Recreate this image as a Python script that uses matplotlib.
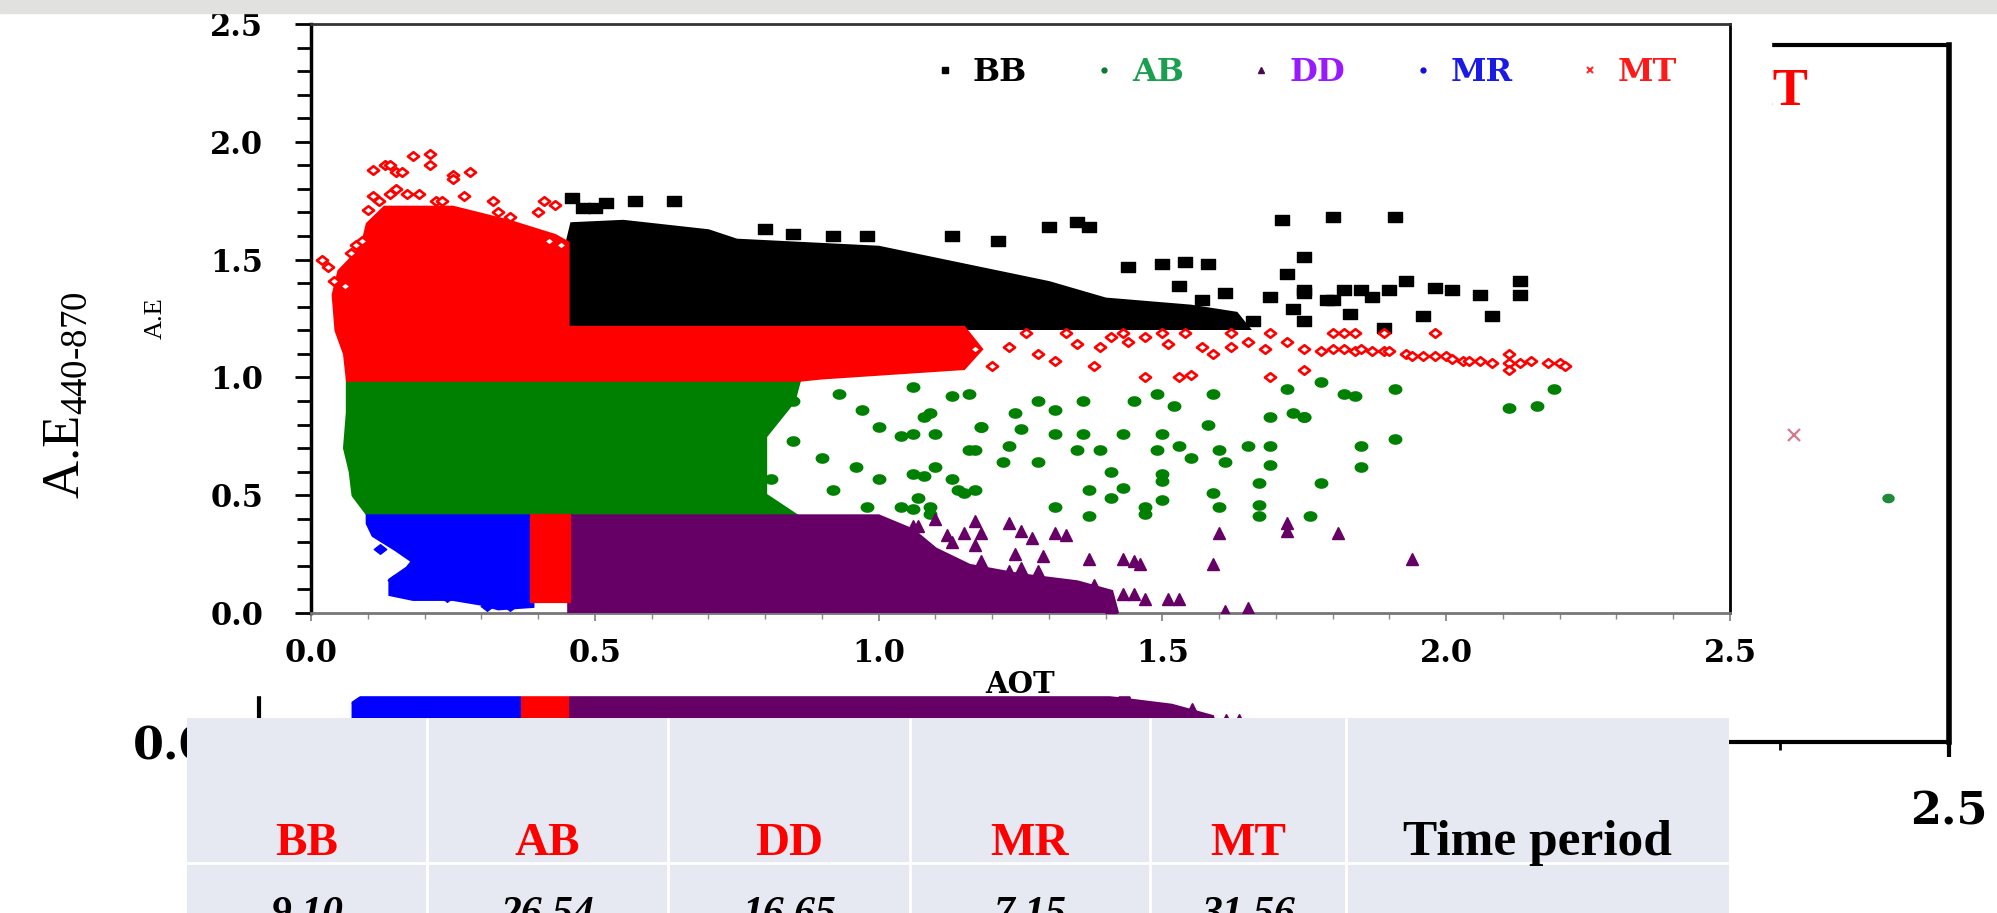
import numpy as np
import matplotlib
matplotlib.use('Agg')
import matplotlib.pyplot as plt
from matplotlib.lines import Line2D
from matplotlib.patches import Rectangle
from matplotlib.path import Path

plt.rcParams['font.family'] = 'DejaVu Serif'
plt.rcParams['mathtext.fontset'] = 'custom'
plt.rcParams['mathtext.rm'] = 'Liberation Serif'

# ---------------- data: AOT (x) vs A.E (y) ----------------
# outlines of the solid (saturated) cores of each class
bb_core_x = [0.452, 0.452, 0.46, 0.55, 0.70, 0.75, 1.00, 1.10, 1.20, 1.30, 1.40, 1.55, 1.63, 1.65]
bb_core_y = [1.21, 1.57, 1.65, 1.66, 1.62, 1.58, 1.55, 1.50, 1.45, 1.40, 1.33, 1.30, 1.27, 1.21]
ab_core_x = [0.10, 0.075, 0.07, 0.06, 0.065, 0.065, 0.86, 0.85, 0.80, 0.80, 0.85]
ab_core_y = [0.42, 0.50, 0.60, 0.70, 0.85, 0.99, 0.99, 0.90, 0.75, 0.50, 0.42]
dd_core_x = [0.455, 0.455, 1.00, 1.06, 1.10, 1.16, 1.25, 1.35, 1.41, 1.42]
dd_core_y = [0.0, 0.41, 0.41, 0.35, 0.27, 0.20, 0.16, 0.13, 0.09, 0.0]
mr_core_x = [0.10, 0.39, 0.39, 0.33, 0.30, 0.25, 0.18, 0.14, 0.14, 0.17, 0.18, 0.15, 0.11, 0.10]
mr_core_y = [0.41, 0.41, 0.03, 0.02, 0.04, 0.06, 0.06, 0.08, 0.14, 0.19, 0.22, 0.27, 0.33, 0.38]
mt_core_x = [0.065, 0.06, 0.045, 0.04, 0.05, 0.09, 0.10, 0.13, 0.25, 0.35, 0.43, 0.452, 0.452,
             0.80, 1.00, 1.15, 1.18, 1.15, 0.90, 0.86]
mt_core_y = [0.99, 1.10, 1.20, 1.35, 1.45, 1.55, 1.65, 1.72, 1.72, 1.66, 1.60, 1.57, 1.21,
             1.21, 1.21, 1.21, 1.12, 1.04, 1.00, 0.99]
mt_strip_x = [0.39, 0.455, 0.455, 0.39]
mt_strip_y = [0.05, 0.05, 0.41, 0.41]

# scattered points outside the cores
bb_x = [0.46, 0.48, 0.50, 0.52, 0.57, 0.64, 0.80, 0.85, 0.92, 0.98, 1.13, 1.21, 1.30, 1.35, 1.37,
        1.44, 1.50, 1.54, 1.58, 1.71, 1.75, 1.72, 1.80, 1.80, 1.75, 1.91, 1.75, 1.82, 1.85, 1.90,
        1.93, 1.98, 2.01, 2.06, 2.13, 2.13, 1.96, 2.08, 1.89, 1.83, 1.79, 1.87, 1.53, 1.57, 1.61,
        1.62, 1.66, 1.69, 1.73, 1.75, 1.58]
bb_y = [1.76, 1.72, 1.72, 1.74, 1.75, 1.75, 1.63, 1.61, 1.60, 1.60, 1.60, 1.58, 1.64, 1.66, 1.64,
        1.47, 1.48, 1.49, 1.48, 1.67, 1.51, 1.44, 1.68, 1.33, 1.36, 1.68, 1.37, 1.37, 1.37, 1.37,
        1.41, 1.38, 1.37, 1.35, 1.41, 1.35, 1.26, 1.26, 1.21, 1.27, 1.33, 1.34, 1.39, 1.33, 1.36,
        1.24, 1.24, 1.34, 1.29, 1.24, 1.24]

ab_x = [0.71, 0.77, 0.85, 0.93, 0.97, 1.00, 1.04, 1.08, 1.13, 1.16, 1.18, 0.90, 0.96, 1.00, 1.07,
        1.14, 0.81, 0.85, 0.92, 0.98, 1.04, 1.10,
        1.06, 1.09, 1.16, 1.24, 1.28, 1.31, 1.36, 1.45, 1.49, 1.52, 1.59, 1.72, 1.82, 1.84, 1.91,
        2.19, 2.11, 2.16, 1.06, 1.10, 1.18, 1.25, 1.31, 1.36, 1.43, 1.50, 1.53, 1.58, 1.69, 1.73,
        1.75, 1.23, 1.28, 1.22, 1.17, 1.35, 1.39, 1.49, 1.55, 1.60, 1.61, 1.65, 1.69, 1.69, 1.85,
        1.91, 1.85, 1.06, 1.08, 1.13, 1.17, 1.15, 1.41, 1.50, 1.50, 1.43, 1.37, 1.41, 1.50, 1.59,
        1.67, 1.78, 1.31, 1.47, 1.47, 1.37, 1.60, 1.67, 1.67, 1.76, 1.09, 1.09, 1.06, 1.78, 1.75]
ab_y = [0.95, 0.85, 0.90, 0.93, 0.86, 0.79, 0.75, 0.83, 0.92, 0.69, 0.79, 0.66, 0.62, 0.57, 0.49,
        0.52, 0.57, 0.73, 0.52, 0.45, 0.45, 0.62,
        0.96, 0.85, 0.93, 0.85, 0.90, 0.86, 0.90, 0.90, 0.93, 0.88, 0.93, 0.95, 0.93, 0.92, 0.95,
        0.95, 0.87, 0.88, 0.76, 0.76, 0.79, 0.78, 0.76, 0.76, 0.76, 0.76, 0.71, 0.80, 0.83, 0.85,
        0.83, 0.71, 0.64, 0.64, 0.69, 0.69, 0.69, 0.69, 0.66, 0.69, 0.64, 0.71, 0.71, 0.63, 0.71,
        0.74, 0.62, 0.59, 0.58, 0.57, 0.52, 0.51, 0.60, 0.59, 0.56, 0.53, 0.52, 0.49, 0.48, 0.51,
        0.55, 0.55, 0.45, 0.45, 0.42, 0.41, 0.45, 0.46, 0.41, 0.41, 0.45, 0.42, 0.44, 0.98, 0.83]

dd_x = [1.10, 1.17, 1.23, 1.25, 1.27, 1.31, 1.33, 1.15, 1.18, 1.12, 1.06, 1.07, 1.13, 1.17, 1.24,
        1.29, 1.37, 1.43, 1.45, 1.46, 1.59, 1.60, 1.72, 1.72, 1.81, 1.94, 1.06, 1.09, 1.28, 1.38,
        1.43, 1.45, 1.47, 1.51, 1.53, 1.41, 1.61, 1.65, 1.23, 1.25, 1.18]
dd_y = [0.40, 0.39, 0.38, 0.35, 0.32, 0.34, 0.33, 0.34, 0.34, 0.33, 0.37, 0.37, 0.30, 0.29, 0.25,
        0.24, 0.23, 0.23, 0.22, 0.21, 0.21, 0.34, 0.38, 0.35, 0.34, 0.23, 0.28, 0.20, 0.18, 0.12,
        0.08, 0.08, 0.06, 0.06, 0.06, 0.02, 0.01, 0.02, 0.18, 0.19, 0.22]

mr_x = [0.115, 0.122, 0.146, 0.150, 0.169, 0.240, 0.31, 0.35]
mr_y = [0.38, 0.27, 0.14, 0.10, 0.32, 0.07, 0.03, 0.03]

mt_x = [0.02, 0.03, 0.04, 0.06, 0.07, 0.08, 0.09, 0.10, 0.11, 0.11, 0.13, 0.14, 0.15, 0.16, 0.18,
        0.21, 0.21, 0.25, 0.25, 0.28, 0.12, 0.14, 0.15, 0.17, 0.19, 0.22, 0.23, 0.27, 0.32, 0.33,
        0.35, 0.40, 0.41, 0.43, 0.42, 0.44,
        1.17, 1.20, 1.23, 1.26, 1.28, 1.31, 1.33, 1.35, 1.38, 1.39, 1.41, 1.43, 1.44, 1.47, 1.47,
        1.50, 1.51, 1.53, 1.54, 1.55, 1.57, 1.59, 1.62, 1.62, 1.65, 1.68, 1.69, 1.69, 1.72,
        1.75, 1.80, 1.82, 1.84, 1.89, 1.98, 1.75, 1.78, 1.80, 1.82, 1.84, 1.85, 1.87, 1.89, 1.90,
        1.93, 1.94, 1.96, 1.98, 2.00, 2.01, 2.03, 2.04, 2.06, 2.08, 2.11, 2.11, 2.11, 2.13, 2.15,
        2.18, 2.20, 2.21]
mt_y = [1.50, 1.47, 1.41, 1.39, 1.53, 1.56, 1.58, 1.71, 1.77, 1.88, 1.90, 1.90, 1.87, 1.87, 1.94,
        1.95, 1.90, 1.86, 1.84, 1.87, 1.75, 1.78, 1.80, 1.78, 1.78, 1.75, 1.75, 1.77, 1.75, 1.70,
        1.68, 1.70, 1.75, 1.73, 1.58, 1.56,
        1.12, 1.05, 1.13, 1.19, 1.10, 1.07, 1.19, 1.14, 1.05, 1.13, 1.17, 1.19, 1.15, 1.17, 1.00,
        1.19, 1.14, 1.00, 1.19, 1.01, 1.13, 1.10, 1.19, 1.13, 1.15, 1.12, 1.19, 1.00, 1.15,
        1.03, 1.19, 1.19, 1.19, 1.19, 1.19, 1.12, 1.11, 1.12, 1.12, 1.11, 1.12, 1.11, 1.11, 1.11,
        1.10, 1.09, 1.09, 1.09, 1.09, 1.08, 1.07, 1.07, 1.07, 1.06, 1.10, 1.06, 1.03, 1.06, 1.07,
        1.06, 1.06, 1.05]

# points only visible on the slide image lying behind the chart
back_mt_x, back_mt_y = [2.27], [1.10]
back_ab_x, back_ab_y = [2.41], [0.875]

classes = ['BB', 'AB', 'DD', 'MR', 'MT']
table_heads = classes + ['Time period']
table_share = [9.10, 26.54, 16.65, 7.15, 31.56]

# ---------------- styles ----------------
c_bb, c_ab, c_dd, c_mr, c_mt = 'black', '#008000', '#660066', '#0000ff', '#ff0000'
leg_colors = ['black', '#1a9e50', '#9a1aff', '#1a1ae6', '#ff1a1a']
rect_mk = Path([(-1.4, -1), (1.4, -1), (1.4, 1), (-1.4, 1), (-1.4, -1)], closed=True)
t = np.linspace(0, 2 * np.pi, 25)
oval_mk = Path(np.column_stack([1.35 * np.cos(t), np.sin(t)]), closed=True)
dia_mk = Path([(0, 1), (1.3, 0), (0, -1), (-1.3, 0), (0, 1)], closed=True)


def draw_classes(a):
    a.fill(bb_core_x, bb_core_y, color=c_bb, lw=3, zorder=2)
    a.plot(bb_x, bb_y, ls='none', marker=rect_mk, ms=10.5, color=c_bb, zorder=2)
    a.fill(ab_core_x, ab_core_y, color=c_ab, lw=3, zorder=3)
    a.plot(ab_x, ab_y, ls='none', marker=oval_mk, ms=9, color=c_ab, zorder=3)
    a.fill(dd_core_x, dd_core_y, color=c_dd, lw=3, zorder=4)
    a.plot(dd_x, dd_y, ls='none', marker='^', ms=8.5, color=c_dd, zorder=4)
    a.fill(mr_core_x, mr_core_y, color=c_mr, lw=3, zorder=5)
    a.plot(mr_x, mr_y, ls='none', marker=dia_mk, ms=9, color=c_mr, zorder=5)
    a.fill(mt_core_x, mt_core_y, color=c_mt, lw=3, zorder=6)
    a.fill(mt_strip_x, mt_strip_y, color=c_mt, lw=3, zorder=6)
    a.plot(mt_x, mt_y, ls='none', marker=dia_mk, ms=8, mfc='white', mec=c_mt, mew=1.9, zorder=6)


W, H = 1997, 913
fig = plt.figure(figsize=(W / 100, H / 100), dpi=100)

# ---------------- chart behind (mostly hidden) ----------------
bax = fig.add_axes([259 / W, 1 - 742 / H, 1690 / W, 697 / H], zorder=0)
draw_classes(bax)
bax.plot(back_mt_x, back_mt_y, ls='none', marker='x', ms=8, mew=1.6, color='#d8788c')
bax.plot(back_ab_x, back_ab_y, ls='none', marker=oval_mk, ms=8, color='#1f8a3a')
bax.set_xlim(0, 2.5)
bax.set_ylim(0, 2.5)
ticks = np.arange(0, 2.51, 0.5)
bax.set_xticks(ticks, labels=['' if v < 2.5 else f'{v:.1f}' for v in ticks])
bax.set_xticks(np.arange(0, 2.51, 0.25), minor=True)
bax.set_yticks(ticks, labels=[f'{v:.1f}' if v == 0 else '' for v in ticks])
bax.tick_params(which='major', direction='out', length=11, width=3, labelsize=32, pad=24)
bax.tick_params(which='minor', direction='out', length=6, width=2)
for lab in bax.get_xticklabels() + bax.get_yticklabels():
    lab.set_fontweight('bold')
for side, lw in [('left', 3), ('bottom', 3), ('top', 3), ('right', 4)]:
    bax.spines[side].set_linewidth(lw)
bax.set_ylabel(r'A.E$_{\mathregular{440\text{-}870}}$', family='Liberation Serif', fontsize=38)
bax.yaxis.set_label_coords(-0.100, 0.498)
bax.text(0.9166, 0.9326, 'MT', transform=bax.transAxes, ha='right', va='center',
         color='red', fontsize=38, fontweight='bold', family='Liberation Serif')

# white card of the front chart
fig.add_artist(Rectangle((130 / W, 1 - 695 / H), 1641 / W, 682 / H,
                         transform=fig.transFigure, color='white', zorder=1))

# ---------------- front chart ----------------
ax = fig.add_axes([311 / W, 1 - 613 / H, 1419 / W, 589 / H], zorder=2)
draw_classes(ax)
ax.set_xlim(0, 2.5)
ax.set_ylim(0, 2.5)
ax.set_xticks(ticks)
ax.set_xticks(np.arange(0, 2.51, 0.1), minor=True)
ax.set_yticks(ticks)
ax.set_yticks(np.arange(0, 2.51, 0.1), minor=True)
ax.xaxis.set_major_formatter('{x:.1f}')
ax.yaxis.set_major_formatter('{x:.1f}')
ax.tick_params(axis='y', which='major', direction='out', length=11.5, width=2, pad=23, labelsize=22)
ax.tick_params(axis='y', which='minor', direction='out', length=10, width=2)
ax.tick_params(axis='x', which='major', direction='out', length=6, width=1.3, color='#888888',
               pad=12, labelsize=22)
ax.tick_params(axis='x', which='minor', direction='out', length=4, width=1, color='#888888')
for lab in ax.get_xticklabels() + ax.get_yticklabels():
    lab.set_fontweight('bold')
ax.spines['left'].set_linewidth(2.5)
ax.spines['bottom'].set_linewidth(2)
ax.spines['bottom'].set_color('#777777')
ax.spines['top'].set_linewidth(2)
ax.spines['top'].set_color('#333333')
ax.spines['right'].set_linewidth(2)
ax.set_xlabel('AOT', fontsize=21, fontweight='bold')
ax.xaxis.set_label_coords(0.5, -0.097)
ax.set_ylabel('A.E', family='Liberation Serif', fontsize=19)
ax.yaxis.set_label_coords(-0.1015, 0.501)

handles = [Line2D([], [], ls='none', marker='s', ms=5, color='black'),
           Line2D([], [], ls='none', marker='o', ms=3.5, color='#0b7a2e'),
           Line2D([], [], ls='none', marker='^', ms=4, color='#4b0a4b'),
           Line2D([], [], ls='none', marker='o', ms=3.5, color='#1010e0'),
           Line2D([], [], ls='none', marker='x', ms=5, mew=1.5, color='#ff2a2a')]
ax.legend(handles, classes, ncol=5, loc='center right', bbox_to_anchor=(0.963, 0.918),
          frameon=False, prop={'family': 'DejaVu Serif', 'weight': 'bold', 'size': 23},
          handlelength=0.45, handletextpad=0.65, columnspacing=2.2, borderpad=0,
          borderaxespad=0, labelcolor=leg_colors)

# ---------------- table ----------------
col_w = [240, 241, 242, 240, 196, 383]
edges = np.concatenate([[0], np.cumsum(col_w)])
centers = (edges[:-1] + edges[1:]) / 2
tax = fig.add_axes([187 / W, 0, 1542 / W, 195 / H], zorder=3)
tax.set_facecolor('#e6e9f2')
tax.set_xlim(0, edges[-1])
tax.set_ylim(195, 0)
tax.set_xticks([])
tax.set_yticks([])
for s in tax.spines.values():
    s.set_visible(False)
tax.vlines(edges[1:-1], 0, 195, color='white', lw=2)
tax.axhline(145, color='white', lw=2)
for i, head in enumerate(table_heads):
    red = head != 'Time period'
    tax.text(centers[i], 137, head, ha='center', va='baseline', family='Liberation Serif',
             fontweight='bold', fontsize=34 if red else 37, color='red' if red else 'black')
for i, v in enumerate(table_share):
    tax.text(centers[i], 178, f'{v:.2f}', ha='center', va='top', family='Liberation Serif',
             fontweight='bold', fontstyle='italic', fontsize=30, color='black')

# grey strip at the top of the slide
fig.add_artist(Rectangle((0, 1 - 13 / H), 1, 13 / H, transform=fig.transFigure,
                         color='#e1e1df', zorder=10))

fig.savefig('out.png', dpi=100)
